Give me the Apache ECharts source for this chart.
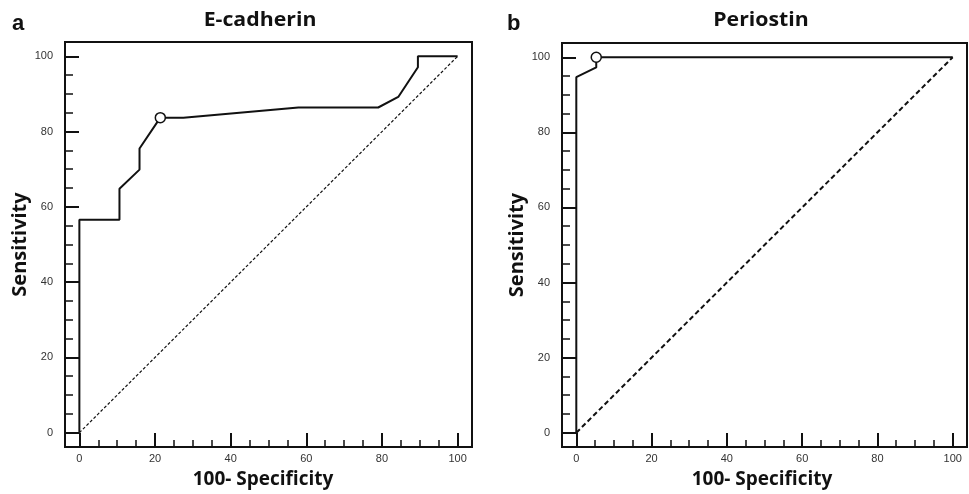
<!DOCTYPE html>
<html>
<head>
<meta charset="utf-8">
<script src="https://cdn.jsdelivr.net/npm/echarts@6/dist/echarts.min.js"></script>
<style>
html,body{margin:0;padding:0;background:#fff;}
#c{width:969px;height:494px;}
</style>
</head>
<body>
<div id="c"></div>
<script>
// ---- data ----
var panelTitles = ['E-cadherin', 'Periostin'];
var panelLetters = ['a', 'b'];
var xName = '100- Specificity';
var yName = 'Sensitivity';
var majorTicks = [0, 20, 40, 60, 80, 100];
var minorTicks = [5, 10, 15, 25, 30, 35, 45, 50, 55, 65, 70, 75, 85, 90, 95];

var ecadX = [0, 0, 10.6, 10.6, 15.9, 15.9, 21.4, 27.5, 57.9, 79.0, 84.3, 89.5, 89.5, 100];
var ecadY = [0, 56.6, 56.6, 64.8, 69.9, 75.5, 83.7, 83.7, 86.4, 86.4, 89.2, 97.1, 100, 100];
var ecadOpt = [21.4, 83.7];

var periX = [0, 0, 5.3, 5.3, 100];
var periY = [0, 94.7, 97.3, 100, 100];
var periOpt = [5.3, 100];

var refX = [0, 100];
var refY = [0, 100];

function pairs(xs, ys) { return xs.map(function (x, i) { return [x, ys[i]]; }); }

var chart = echarts.init(document.getElementById('c'), null, {renderer: 'canvas'});

var grids = [
  {left: 65, right: 497, top: 42, bottom: 47},
  {left: 562, right: 2, top: 43, bottom: 47}
];
var namePads = [[0, 11, 0, 0], [0, 5, 0, 0]];
var AX_MIN = -3.8, AX_MAX = 103.8;
var labelFont = {fontFamily: 'Liberation Sans', fontSize: 11, color: '#333'};

var xAxes = [], yAxes = [];
[0, 1].forEach(function (g) {
  xAxes.push({
    type: 'value', gridIndex: g, position: 'bottom', min: AX_MIN, max: AX_MAX,
    name: xName, nameLocation: 'middle', nameGap: 23,
    nameTextStyle: {fontFamily: 'Open Sans', fontWeight: 'bold', fontSize: 19, color: '#111', padding: namePads[g]},
    axisLine: {show: false, onZero: false},
    splitLine: {show: false},
    axisTick: {show: true, inside: true, length: 14, customValues: majorTicks, lineStyle: {color: '#111', width: 2}},
    axisLabel: {show: true, margin: 6, customValues: majorTicks, fontFamily: labelFont.fontFamily, fontSize: labelFont.fontSize, color: labelFont.color}
  });
  xAxes.push({
    type: 'value', gridIndex: g, position: 'bottom', min: AX_MIN, max: AX_MAX,
    axisLine: {show: false, onZero: false},
    splitLine: {show: false},
    axisTick: {show: true, inside: true, length: 7, customValues: minorTicks, lineStyle: {color: '#111', width: 1.5}},
    axisLabel: {show: false}
  });
  yAxes.push({
    type: 'value', gridIndex: g, position: 'left', min: AX_MIN, max: AX_MAX,
    name: yName, nameLocation: 'middle', nameGap: 35, nameRotate: 90,
    nameTextStyle: {fontFamily: 'Open Sans', fontWeight: 'bold', fontSize: 20, color: '#111'},
    axisLine: {show: false, onZero: false},
    splitLine: {show: false},
    axisTick: {show: true, inside: true, length: 14, customValues: majorTicks, lineStyle: {color: '#111', width: 2}},
    axisLabel: {show: true, margin: 12, customValues: majorTicks, fontFamily: labelFont.fontFamily, fontSize: labelFont.fontSize, color: labelFont.color}
  });
  yAxes.push({
    type: 'value', gridIndex: g, position: 'left', min: AX_MIN, max: AX_MAX,
    axisLine: {show: false, onZero: false},
    splitLine: {show: false},
    axisTick: {show: true, inside: true, length: 8, customValues: minorTicks, lineStyle: {color: '#111', width: 1.5}},
    axisLabel: {show: false}
  });
});

function titleText(txt, x) {
  return {type: 'text', x: x, y: 21, scaleX: 1.12, style: {text: txt, textAlign: 'center', textVerticalAlign: 'middle', fontFamily: 'Open Sans', fontWeight: 'bold', fontSize: 19, fill: '#111'}};
}
function letterText(txt, x) {
  return {type: 'text', x: x, y: 24, style: {text: txt, textAlign: 'left', textVerticalAlign: 'middle', fontFamily: 'Liberation Sans', fontWeight: 'bold', fontSize: 22, fill: '#111'}};
}

var option = {
  backgroundColor: '#fff',
  animation: false,
  grid: grids.map(function (g) {
    return Object.assign({show: true, borderColor: '#111', borderWidth: 2, backgroundColor: 'transparent', containLabel: false}, g);
  }),
  xAxis: xAxes,
  yAxis: yAxes,
  graphic: [
    titleText(panelTitles[0], 260),
    titleText(panelTitles[1], 761),
    letterText(panelLetters[0], 12),
    letterText(panelLetters[1], 507)
  ],
  series: [
    {type: 'line', xAxisIndex: 0, yAxisIndex: 0, data: pairs(refX, refY), symbol: 'none', silent: true,
     lineStyle: {color: '#111', width: 1.2, type: [3, 2]}},
    {type: 'line', xAxisIndex: 0, yAxisIndex: 0, data: pairs(ecadX, ecadY), symbol: 'none',
     lineStyle: {color: '#111', width: 2}},
    {type: 'scatter', xAxisIndex: 0, yAxisIndex: 0, data: [ecadOpt], symbol: 'circle', symbolSize: 10,
     itemStyle: {color: '#ffffff', opacity: 1, borderColor: '#111', borderWidth: 1.5}, z: 5},
    {type: 'line', xAxisIndex: 2, yAxisIndex: 2, data: pairs(refX, refY), symbol: 'none', silent: true,
     lineStyle: {color: '#111', width: 2, type: [5, 3]}},
    {type: 'line', xAxisIndex: 2, yAxisIndex: 2, data: pairs(periX, periY), symbol: 'none',
     lineStyle: {color: '#111', width: 2}},
    {type: 'scatter', xAxisIndex: 2, yAxisIndex: 2, data: [periOpt], symbol: 'circle', symbolSize: 10,
     itemStyle: {color: '#ffffff', opacity: 1, borderColor: '#111', borderWidth: 1.5}, z: 5}
  ]
};
chart.setOption(option);
</script>
</body>
</html>
